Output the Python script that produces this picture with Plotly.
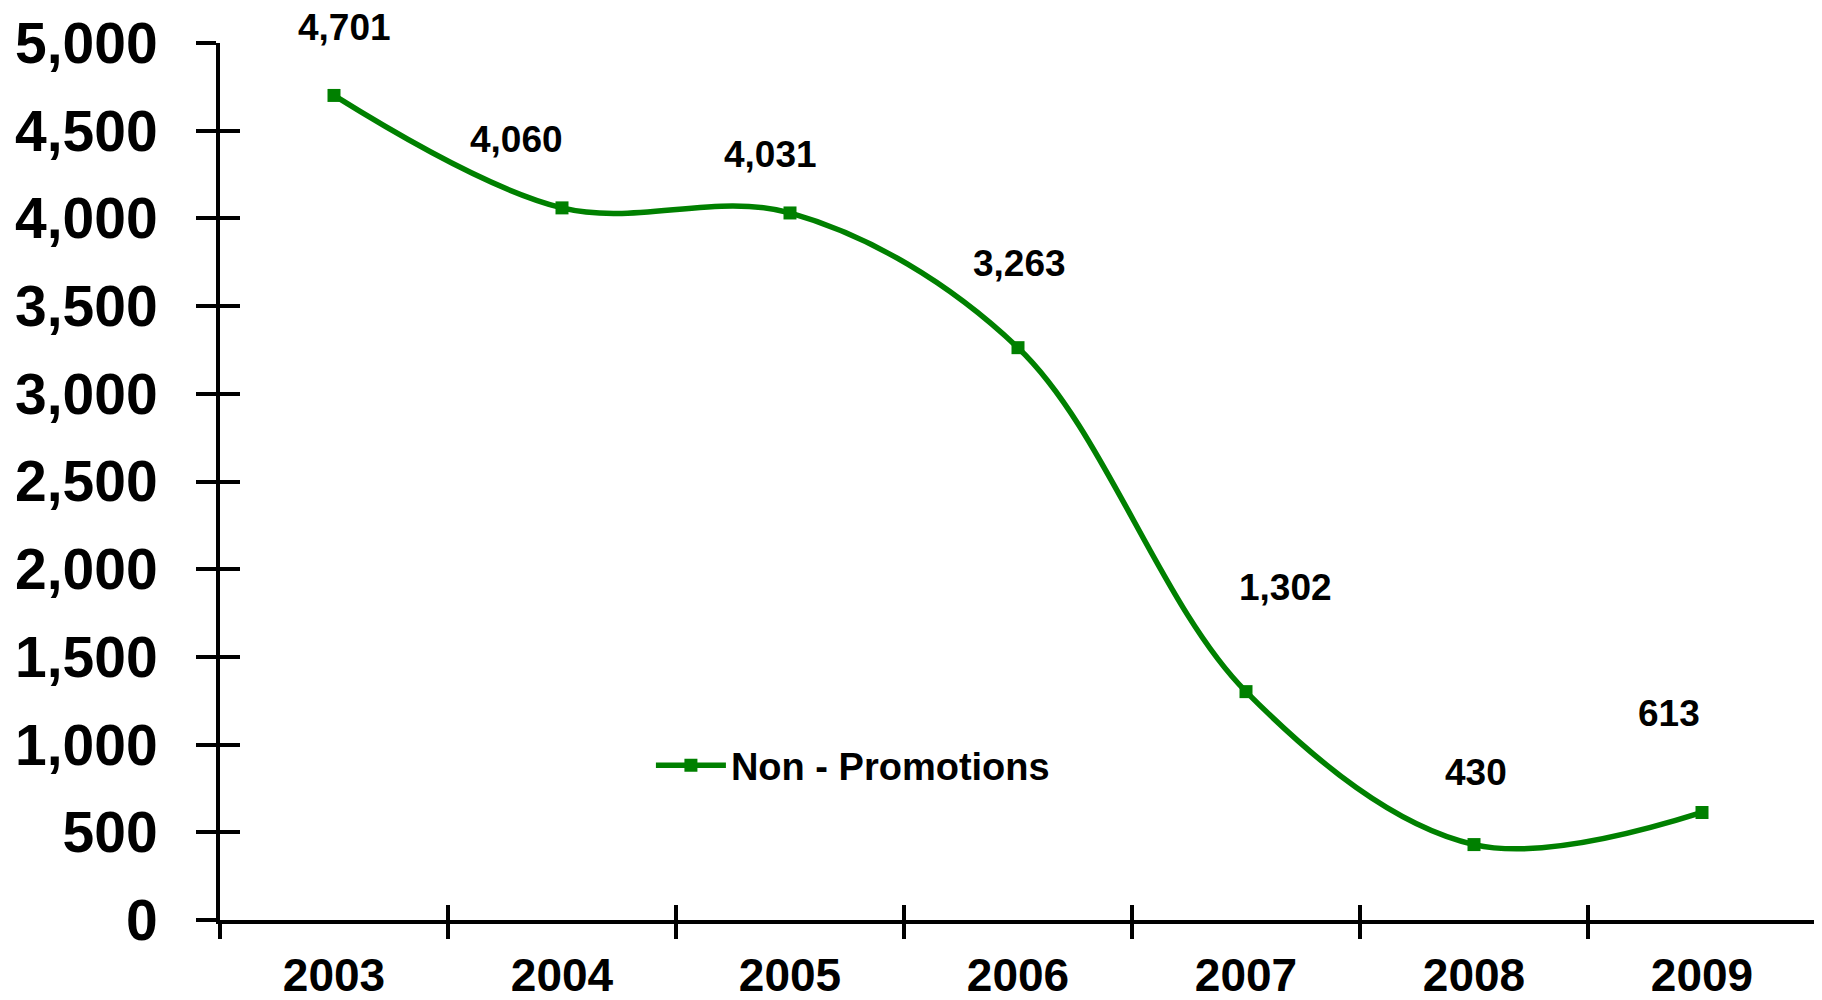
import plotly.graph_objects as go

years = ["2003", "2004", "2005", "2006", "2007", "2008", "2009"]
values = [4701, 4060, 4031, 3263, 1302, 430, 613]
labels = ["4,701", "4,060", "4,031", "3,263", "1,302", "430", "613"]
series_name = "Non - Promotions"

# label offsets (pixels) relative to each point, as placed in the original
label_dx = [10, -46, -20, 1, 39, 2, -33]
label_dy = [-68, -68, -58, -84, -104, -72, -99]

GREEN = "#008000"
FONT = "Liberation Sans, Arial, sans-serif"

fig = go.Figure()
# invisible copy on the overlay axes so their inward ticks get drawn
fig.add_trace(go.Scatter(
    x=list(range(len(years))), y=values, xaxis="x2", yaxis="y2",
    mode="markers", marker=dict(opacity=0), showlegend=False, hoverinfo="skip",
))
fig.add_trace(go.Scatter(
    x=years, y=values, name=series_name,
    mode="lines+markers",
    line=dict(color=GREEN, width=5.5, shape="spline", smoothing=1),
    marker=dict(symbol="square", size=13, color=GREEN),
    cliponaxis=False,
))

for i, (yv, t, dx, dy) in enumerate(zip(values, labels, label_dx, label_dy)):
    fig.add_annotation(x=i, y=yv, xref="x", yref="y", text="<b>%s</b>" % t,
                       showarrow=True, arrowcolor="rgba(0,0,0,0)", ax=dx, ay=dy,
                       font=dict(family=FONT, size=37, color="black"))

fig.update_layout(
    width=1822, height=1000,
    margin=dict(l=212, r=14, t=35, b=88, autoexpand=False),
    paper_bgcolor="white", plot_bgcolor="white",
    font=dict(family=FONT, color="black"),
    showlegend=True,
    legend=dict(x=0.27, y=0.176, xanchor="left", yanchor="middle",
                bgcolor="rgba(0,0,0,0)", itemwidth=70,
                font=dict(family=FONT, size=38, color="black", weight="bold")),
    xaxis=dict(type="category", showline=True, linecolor="black", linewidth=4,
               ticks="outside", tickson="boundaries", ticklen=15, tickwidth=4,
               tickcolor="black", showgrid=False, zeroline=False, automargin=False,
               tickfont=dict(family=FONT, size=46, color="black", weight="bold"),
               ticklabelstandoff=12, range=[-0.5, 6.5]),
    xaxis2=dict(overlaying="x", anchor="y2", side="bottom", type="linear",
                range=[-0.5, 6.5], tickvals=[-0.5, 0.5, 1.5, 2.5, 3.5, 4.5, 5.5, 6.5],
                ticks="inside", ticklen=15, tickwidth=4, tickcolor="black", automargin=False,
                showticklabels=False, showgrid=False, zeroline=False, showline=False),
    yaxis=dict(range=[0, 5000], dtick=500, tickformat=",d", showline=True,
               linecolor="black", linewidth=4, ticks="outside", ticklen=20,
               tickwidth=4, tickcolor="black", showgrid=False, zeroline=False,
               automargin=False,
               tickfont=dict(family=FONT, size=57, color="black", weight="bold"),
               ticklabelstandoff=27),
    yaxis2=dict(overlaying="y", anchor="x2", side="left", range=[0, 5000], dtick=500,
                ticks="inside", ticklen=20, tickwidth=4, tickcolor="black", automargin=False,
                showticklabels=False, showgrid=False, zeroline=False, showline=False),
)

fig.write_html("out.html")
